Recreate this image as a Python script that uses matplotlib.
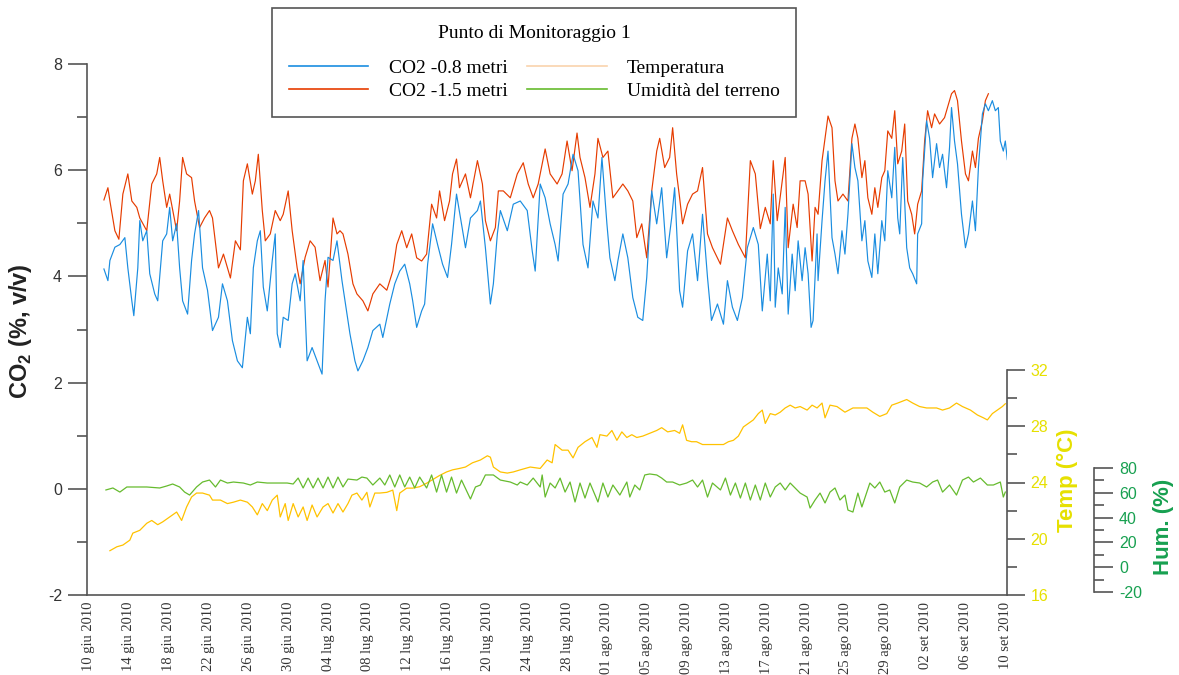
import matplotlib
matplotlib.use('Agg')
import matplotlib.pyplot as plt
from matplotlib.lines import Line2D
from matplotlib.ticker import MultipleLocator
import pandas as pd

plt.rcParams['font.family'] = ['Liberation Sans', 'DejaVu Sans']
plt.rcParams['mathtext.fontset'] = 'custom'
plt.rcParams['mathtext.rm'] = 'Liberation Sans'
plt.rcParams['mathtext.bf'] = 'Liberation Sans:bold'
plt.rcParams['axes.unicode_minus'] = False

# giorni dal 10 giugno 2010
co2_08_day = [1.5, 1.9, 2.1, 2.6, 3.1, 3.6, 3.9, 4.3, 4.5, 4.9, 5.1, 5.4, 5.8, 6.1, 6.6, 6.9, 7.4, 7.8, 8.1, 8.4,
              8.8, 9.1, 9.4, 9.9, 10.3, 10.6, 11.0, 11.4, 11.9, 12.4, 13.0, 13.4, 13.9, 14.4, 14.9, 15.4, 15.9, 16.2, 16.5, 16.9,
              17.2, 17.5, 17.9, 18.4, 18.7, 18.9, 19.2, 19.5, 20.0, 20.4, 20.7, 21.2, 21.5, 21.9, 22.4, 22.9, 23.4, 23.7, 24.0, 24.5,
              24.9, 25.4, 25.9, 26.2, 26.7, 27.0, 27.5, 28.0, 28.5, 29.2, 29.5, 30.2, 30.7, 31.2, 31.7, 32.2, 32.5, 32.9, 33.4, 33.7,
              34.0, 34.5, 35.0, 35.5, 36.0, 36.4, 36.9, 37.4, 37.8, 38.3, 39.0, 39.3, 39.8, 40.3, 40.6, 41.0, 41.3, 42.0, 42.6, 43.3,
              44.0, 44.5, 44.8, 45.3, 45.8, 46.3, 46.8, 47.1, 47.6, 48.1, 48.6, 49.1, 49.6, 50.1, 50.6, 51.1, 51.5, 52.0, 52.3, 52.8,
              53.1, 53.6, 54.1, 54.6, 55.1, 55.6, 56.0, 56.5, 57.0, 57.5, 58.0, 58.5, 58.8, 59.3, 59.6, 60.1, 60.6, 61.1, 61.6, 62.1,
              62.5, 63.1, 63.7, 64.1, 64.6, 65.1, 65.6, 66.1, 66.7, 67.2, 67.6, 68.1, 68.4, 68.7, 68.9, 69.2, 69.6, 69.9, 70.2, 70.6,
              70.9, 71.2, 71.6, 71.9, 72.2, 72.5, 72.7, 73.1, 73.2, 73.6, 73.9, 74.2, 74.6, 74.9, 75.2, 75.6, 75.9, 76.2, 76.6, 76.9,
              77.2, 77.6, 77.9, 78.2, 78.6, 78.9, 79.2, 79.6, 79.9, 80.2, 80.6, 80.9, 81.2, 81.4, 81.7, 82.1, 82.4, 82.7, 83.1, 83.2,
              83.6, 83.7, 84.1, 84.4, 84.7, 85.1, 85.4, 85.7, 86.1, 86.4, 86.6, 86.9, 87.2, 87.6, 88.0, 88.3, 88.7, 89.0, 89.3, 89.7,
              90.0, 90.3, 90.7, 91.0, 91.3, 91.5, 91.8, 92.0, 92.2]
co2_08 = [4.14, 3.92, 4.30, 4.55, 4.60, 4.73, 4.16, 3.54, 3.26, 4.16, 5.05, 4.67, 4.86, 4.05, 3.67, 3.54, 4.67, 4.80, 5.30, 4.67,
          4.99, 4.16, 3.54, 3.29, 4.30, 4.80, 5.24, 4.16, 3.74, 2.98, 3.23, 3.86, 3.54, 2.79, 2.41, 2.28, 3.23, 2.92, 4.16, 4.67,
          4.86, 3.80, 3.35, 4.30, 4.80, 2.92, 2.66, 3.23, 3.17, 3.86, 4.05, 3.54, 4.30, 2.41, 2.66, 2.41, 2.16, 3.54, 4.36, 4.30,
          4.67, 3.92, 3.29, 2.92, 2.41, 2.22, 2.41, 2.66, 2.98, 3.10, 2.85, 3.48, 3.86, 4.10, 4.23, 3.86, 3.54, 3.04, 3.35, 3.48,
          4.23, 4.99, 4.60, 4.23, 3.98, 4.60, 5.55, 4.99, 4.54, 5.10, 5.24, 5.42, 4.54, 3.48, 3.86, 4.80, 5.24, 4.86, 5.36, 5.42,
          5.24, 4.48, 4.10, 5.74, 5.48, 4.99, 4.60, 4.29, 5.55, 5.74, 6.30, 5.99, 4.60, 4.16, 5.42, 5.10, 6.24, 4.99, 4.35, 3.92,
          4.29, 4.80, 4.35, 3.60, 3.23, 3.17, 3.98, 5.61, 4.99, 5.67, 4.35, 5.10, 5.67, 3.73, 3.42, 4.48, 4.80, 3.92, 5.17, 3.98,
          3.17, 3.48, 3.10, 3.92, 3.42, 3.17, 3.60, 4.54, 4.92, 4.60, 3.35, 4.42, 3.54, 5.55, 3.42, 4.16, 3.67, 5.30, 3.29, 4.42,
          3.73, 4.67, 3.92, 4.54, 4.05, 3.04, 3.17, 4.80, 3.92, 5.05, 5.80, 6.36, 4.73, 4.42, 4.05, 4.86, 4.42, 5.17, 6.50, 6.05,
          5.80, 4.67, 5.05, 4.29, 3.98, 4.80, 4.05, 5.05, 4.67, 5.99, 5.48, 6.43, 5.10, 4.80, 6.24, 4.54, 4.16, 4.05, 3.86, 4.80,
          4.99, 5.80, 6.93, 6.60, 5.86, 6.50, 6.05, 6.30, 5.67, 6.43, 7.18, 6.55, 6.12, 5.17, 4.54, 4.80, 5.42, 4.86, 6.05, 7.06,
          7.25, 7.12, 7.31, 7.12, 7.18, 6.55, 6.36, 6.55, 6.20]

co2_15_day = [1.5, 1.9, 2.1, 2.6, 3.0, 3.4, 3.9, 4.3, 4.8, 5.1, 5.8, 6.3, 6.8, 7.1, 7.4, 7.8, 8.1, 8.8, 9.1, 9.4,
              9.8, 10.3, 10.6, 11.1, 11.6, 12.1, 12.4, 13.0, 13.5, 14.2, 14.7, 15.2, 15.5, 15.9, 16.4, 16.7, 17.0, 17.4, 17.7, 18.2,
              18.7, 19.2, 19.5, 20.0, 20.4, 20.9, 21.2, 21.7, 22.2, 22.7, 23.2, 23.7, 24.0, 24.5, 24.9, 25.2, 25.5, 26.0, 26.5, 26.9,
              27.5, 28.0, 28.5, 29.2, 29.9, 30.5, 30.9, 31.4, 31.9, 32.4, 32.9, 33.4, 33.9, 34.4, 34.9, 35.2, 35.7, 36.2, 36.5, 36.9,
              37.2, 37.8, 38.3, 39.0, 39.5, 39.8, 40.3, 40.8, 41.1, 41.6, 42.3, 43.0, 43.6, 44.1, 44.6, 45.1, 45.8, 46.3, 47.0, 47.5,
              48.0, 48.5, 49.0, 49.3, 49.8, 50.3, 50.8, 51.1, 51.6, 52.1, 52.6, 53.1, 53.6, 54.1, 54.6, 55.0, 55.5, 56.0, 56.5, 57.0,
              57.3, 57.8, 58.3, 58.6, 59.0, 59.3, 59.6, 60.1, 60.6, 61.1, 61.6, 62.1, 62.6, 63.4, 64.1, 64.6, 65.2, 65.9, 66.4, 66.9,
              67.4, 67.9, 68.4, 68.7, 69.1, 69.6, 69.9, 70.2, 70.7, 71.1, 71.4, 71.9, 72.2, 72.6, 72.9, 73.2, 73.6, 73.9, 74.2, 74.6,
              74.9, 75.2, 75.7, 76.2, 76.6, 76.9, 77.2, 77.6, 77.9, 78.2, 78.6, 78.9, 79.2, 79.6, 79.9, 80.2, 80.6, 80.9, 81.2, 81.6,
              81.9, 82.2, 82.6, 82.9, 83.2, 83.6, 83.9, 84.2, 84.6, 84.9, 85.4, 85.9, 86.2, 86.6, 86.9, 87.2, 87.6, 88.0, 88.3, 88.7,
              89.0, 89.3, 89.7, 90.0, 90.3]
co2_15 = [5.44, 5.67, 5.42, 4.86, 4.70, 5.55, 5.93, 5.42, 5.30, 5.10, 4.86, 5.74, 5.93, 6.24, 5.80, 5.30, 5.55, 4.86, 5.42, 6.24,
          5.93, 5.86, 5.42, 4.92, 5.10, 5.24, 5.10, 4.16, 4.42, 3.97, 4.67, 4.50, 5.80, 6.12, 5.55, 5.80, 6.30, 5.24, 4.67, 4.80,
          5.24, 5.05, 5.17, 5.61, 4.86, 4.16, 3.86, 4.36, 4.67, 4.55, 3.92, 4.30, 3.80, 5.10, 4.80, 4.86, 4.80, 4.42, 3.86, 3.67,
          3.54, 3.35, 3.67, 3.86, 3.74, 4.10, 4.60, 4.86, 4.54, 4.80, 4.35, 4.29, 4.42, 5.36, 5.10, 5.61, 5.05, 5.42, 5.93, 6.21,
          5.67, 5.93, 5.48, 6.18, 5.74, 5.05, 4.67, 4.92, 5.61, 5.61, 5.48, 5.93, 6.14, 5.74, 5.48, 5.74, 6.40, 5.93, 5.74, 5.93,
          6.55, 5.99, 6.70, 6.24, 5.86, 5.30, 5.93, 6.60, 6.24, 6.36, 5.48, 5.61, 5.74, 5.61, 5.42, 4.73, 4.99, 4.35, 5.61, 6.36,
          6.60, 6.05, 6.24, 6.80, 5.93, 5.48, 4.99, 5.36, 5.55, 5.61, 6.05, 4.80, 4.54, 4.23, 5.10, 4.86, 4.60, 4.35, 6.18, 5.93,
          4.90, 5.30, 4.99, 6.18, 5.05, 5.80, 6.24, 4.54, 5.36, 4.92, 5.80, 5.80, 5.55, 4.29, 5.30, 5.17, 6.18, 6.60, 7.02, 6.80,
          5.80, 5.42, 5.55, 5.42, 6.60, 6.87, 6.60, 5.86, 6.18, 5.48, 5.17, 5.67, 5.30, 5.86, 5.99, 6.74, 6.60, 7.12, 6.12, 6.36,
          6.87, 5.42, 5.17, 4.80, 5.36, 5.61, 6.55, 7.12, 6.80, 7.06, 6.87, 6.99, 7.18, 7.44, 7.50, 7.31, 6.55, 5.93, 5.80, 6.36,
          6.05, 6.60, 6.93, 7.31, 7.44]

temp_day = [2.1, 2.8, 3.4, 4.1, 4.4, 5.1, 5.8, 6.3, 6.9, 7.4, 8.1, 8.8, 9.3, 9.8, 10.3, 10.8, 11.4, 12.1, 12.4, 13.2,
            13.9, 14.5, 15.2, 15.9, 16.4, 16.9, 17.4, 17.9, 18.4, 18.9, 19.2, 19.7, 20.0, 20.5, 21.0, 21.5, 21.9, 22.4, 22.9, 23.5,
            24.0, 24.5, 25.0, 25.5, 26.0, 26.4, 26.9, 27.4, 27.9, 28.2, 28.7, 29.2, 29.9, 30.5, 30.9, 31.2, 31.9, 32.5, 33.2, 33.9,
            34.5, 35.2, 35.9, 36.5, 37.2, 37.8, 38.5, 39.3, 40.0, 40.3, 40.6, 41.3, 42.0, 42.6, 43.3, 44.3, 45.3, 46.0, 46.5, 46.8,
            47.5, 48.1, 48.6, 49.1, 49.8, 50.5, 51.0, 51.3, 52.0, 52.5, 53.0, 53.5, 54.0, 54.5, 55.0, 55.6, 56.3, 57.0, 57.5, 58.1,
            58.8, 59.3, 59.6, 60.0, 60.5, 61.0, 61.6, 62.6, 63.7, 64.2, 64.7, 65.2, 65.7, 66.2, 66.7, 67.2, 67.6, 67.9, 68.4, 68.9,
            69.4, 69.9, 70.4, 70.9, 71.4, 72.1, 72.6, 73.1, 73.6, 73.9, 74.4, 75.1, 75.9, 76.7, 78.1, 78.7, 79.4, 80.1, 80.6, 81.2,
            82.1, 82.7, 83.4, 84.1, 85.1, 85.7, 86.4, 87.1, 87.7, 88.5, 89.2, 89.8, 90.2, 90.7, 91.2, 91.7, 92.0]
temp = [19.15, 19.43, 19.55, 19.9, 20.4, 20.6, 21.1, 21.3, 21.0, 21.2, 21.55, 21.9, 21.3, 22.26, 22.97, 23.25, 23.25, 23.1, 22.75, 22.75,
        22.5, 22.6, 22.75, 22.6, 22.26, 21.7, 22.5, 22.0, 22.75, 23.1, 21.55, 22.5, 21.3, 22.5, 21.55, 22.26, 21.3, 22.4, 21.55, 22.26,
        22.5, 21.83, 22.5, 21.9, 22.5, 23.1, 23.25, 22.75, 23.3, 22.26, 23.25, 23.25, 23.3, 23.46, 22.0, 23.25, 23.6, 23.6, 23.7, 23.95,
        24.2, 24.5, 24.75, 24.9, 25.0, 25.1, 25.4, 25.6, 25.9, 25.8, 25.1, 24.75, 24.67, 24.75, 24.9, 25.1, 25.0, 25.6, 25.4, 26.7,
        26.3, 26.3, 25.75, 26.5, 26.9, 27.2, 26.5, 27.4, 27.3, 27.7, 27.0, 27.6, 27.2, 27.4, 27.2, 27.3, 27.5, 27.7, 27.9, 27.6,
        27.7, 27.5, 28.1, 27.0, 26.9, 26.9, 26.7, 26.7, 26.7, 26.9, 27.0, 27.3, 27.95, 28.2, 28.45, 28.9, 29.15, 28.2, 28.9, 28.8,
        29.0, 29.3, 29.5, 29.3, 29.4, 29.15, 29.5, 29.3, 29.65, 28.6, 29.5, 29.4, 29.0, 29.3, 29.3, 29.0, 28.7, 28.9, 29.5, 29.65,
        29.9, 29.65, 29.4, 29.3, 29.3, 29.15, 29.3, 29.65, 29.4, 29.15, 28.8, 28.6, 28.45, 28.9, 29.15, 29.4, 29.6]

hum_day = [1.7, 2.4, 3.1, 3.8, 4.8, 5.8, 7.1, 7.8, 8.4, 9.1, 9.6, 10.1, 10.8, 11.4, 12.1, 12.7, 13.2, 13.9, 14.5, 15.5,
           16.2, 16.9, 17.9, 18.9, 19.9, 20.5, 21.0, 21.5, 22.0, 22.5, 23.0, 23.5, 24.0, 24.5, 25.0, 25.5, 26.0, 26.9, 27.4, 27.9,
           28.5, 29.2, 29.7, 30.2, 30.7, 31.2, 31.7, 32.2, 32.7, 33.2, 33.9, 34.4, 34.9, 35.4, 35.9, 36.4, 36.9, 37.4, 38.3, 38.8,
           39.3, 39.8, 40.6, 41.3, 42.3, 43.0, 43.3, 44.0, 44.6, 45.3, 45.5, 45.8, 46.3, 46.8, 47.3, 47.8, 48.3, 48.8, 49.3, 49.8,
           50.3, 51.1, 51.6, 52.1, 52.6, 53.3, 54.0, 54.3, 54.8, 55.3, 55.8, 56.3, 57.0, 57.5, 58.0, 58.6, 59.3, 60.0, 60.6, 61.1,
           61.6, 62.1, 62.6, 63.4, 63.9, 64.4, 64.9, 65.4, 65.9, 66.4, 66.9, 67.4, 67.9, 68.4, 68.9, 69.4, 69.9, 70.4, 70.9, 71.4,
           72.1, 72.4, 72.9, 73.4, 73.9, 74.4, 74.9, 75.4, 75.9, 76.2, 76.7, 77.2, 77.6, 78.1, 78.4, 78.9, 79.4, 79.9, 80.4, 80.9,
           81.4, 82.1, 82.7, 83.4, 84.1, 84.7, 85.2, 85.7, 86.4, 87.1, 87.7, 88.3, 88.8, 89.5, 90.2, 90.8, 91.5, 91.8, 92.0]
hum = [62.3, 63.9, 60.6, 64.7, 64.7, 64.7, 63.9, 65.5, 67.1, 64.7, 60.6, 58.2, 64.7, 68.7, 70.3, 64.7, 70.3, 67.9, 68.7, 67.9,
       66.3, 68.7, 67.9, 67.9, 67.9, 67.1, 71.9, 63.9, 71.9, 63.9, 71.9, 63.9, 72.7, 63.9, 72.7, 64.7, 71.1, 70.3, 72.7, 71.9,
       66.3, 71.9, 66.3, 74.4, 64.7, 74.4, 64.7, 72.7, 63.9, 72.7, 63.9, 74.4, 60.6, 74.4, 60.6, 72.7, 59.8, 70.3, 55.0, 64.7,
       66.3, 74.4, 74.4, 70.3, 68.7, 66.3, 68.7, 66.3, 71.9, 64.7, 74.4, 56.6, 67.9, 63.9, 71.9, 60.6, 68.7, 52.6, 67.9, 55.8,
       67.9, 52.6, 67.9, 56.6, 66.3, 58.2, 68.7, 56.6, 66.3, 62.3, 74.4, 75.2, 74.4, 71.9, 68.7, 68.7, 66.3, 67.9, 70.3, 64.7,
       70.3, 56.6, 67.9, 62.3, 71.9, 58.2, 67.9, 55.8, 67.9, 54.2, 66.3, 54.2, 67.9, 56.6, 64.7, 67.9, 62.3, 67.9, 63.9, 59.8,
       56.6, 47.7, 54.2, 59.8, 51.8, 60.6, 63.9, 54.2, 58.2, 46.1, 44.5, 59.8, 48.6, 60.6, 67.9, 63.9, 68.7, 60.6, 62.3, 51.8,
       64.7, 70.3, 68.7, 67.9, 64.7, 68.7, 70.3, 60.6, 66.3, 58.2, 70.3, 72.7, 68.7, 71.9, 66.3, 66.3, 68.7, 56.6, 60.6]

mesi = {6: 'giu', 7: 'lug', 8: 'ago', 9: 'set'}

t0 = pd.Timestamp('2010-06-10')


def to_time(days):
    return (t0 + pd.to_timedelta(days, unit='D')).to_pydatetime()


c_blue = '#1a8de0'
c_red = '#e63c00'
c_temp = '#ffc200'
c_hum = '#66bb2e'
c_temp_txt = '#e6e000'
c_hum_txt = '#17a050'
c_axis = '#555555'
c_text = '#333333'

fig = plt.figure(figsize=(11.79, 6.75), dpi=100)
ax = fig.add_axes([87 / 1179, 80 / 675, 920 / 1179, 531 / 675])

ax.plot(to_time(co2_15_day), co2_15, color=c_red, lw=0.85)
ax.plot(to_time(co2_08_day), co2_08, color=c_blue, lw=0.85)

ax.set_ylim(-2, 8)
ax.set_xlim(t0 - pd.Timedelta(days=0.2), t0 + pd.Timedelta(days=92.17))
for s in ['top', 'right']:
    ax.spines[s].set_visible(False)
for s in ['left', 'bottom']:
    ax.spines[s].set_color(c_axis)
    ax.spines[s].set_linewidth(1.2)
ax.yaxis.set_major_locator(MultipleLocator(2))
ax.yaxis.set_minor_locator(MultipleLocator(1))
ax.tick_params(axis='y', which='major', length=14, width=1.2, color=c_axis,
               labelsize=11.5, labelcolor=c_text, pad=4)
ax.tick_params(axis='y', which='minor', length=7, width=1.2, color=c_axis)

ticks = pd.date_range('2010-06-10', '2010-09-10', freq='4D')
labels = [f"{d.day:02d} {mesi[d.month]} {d.year}" for d in ticks]
ax.set_xticks(ticks.to_pydatetime())
ax.set_xticklabels(labels, rotation=90, family='Liberation Serif', fontsize=10.5, color=c_text)
ax.tick_params(axis='x', length=0, pad=5)

# asse temperatura
ax2 = ax.twinx()
ax2.plot(to_time(temp_day), temp, color=c_temp, lw=0.9)
ax2.set_ylim(16, 53.76)
for s in ['top', 'left', 'bottom']:
    ax2.spines[s].set_visible(False)
ax2.spines['right'].set_bounds(16, 32)
ax2.spines['right'].set_color(c_axis)
ax2.spines['right'].set_linewidth(1.2)
ax2.set_yticks([16, 20, 24, 28, 32])
ax2.set_yticks([18, 22, 26, 30], minor=True)
ax2.tick_params(axis='y', which='major', length=13, width=1.2, color=c_axis,
                labelsize=11.5, labelcolor=c_temp_txt, pad=4)
ax2.tick_params(axis='y', which='minor', length=7, width=1.2, color=c_axis)

# asse umidità
ax3 = ax.twinx()
ax3.plot(to_time(hum_day), hum, color=c_hum, lw=0.9)
ax3.set_ylim(-22.4, 405.8)
for s in ['top', 'left', 'bottom']:
    ax3.spines[s].set_visible(False)
ax3.spines['right'].set_position(('axes', (1094 - 87) / 920))
ax3.spines['right'].set_bounds(-20, 80)
ax3.spines['right'].set_color(c_axis)
ax3.spines['right'].set_linewidth(1.2)
ax3.set_yticks([-20, 0, 20, 40, 60, 80])
ax3.set_yticks([-10, 10, 30, 50, 70], minor=True)
ax3.tick_params(axis='y', which='major', length=14, width=1.2, color=c_axis,
                labelsize=11.5, labelcolor=c_hum_txt, pad=4)
ax3.tick_params(axis='y', which='minor', length=7, width=1.2, color=c_axis)

fig.text(21 / 1179, 1 - 331 / 675, r'CO$_\mathbf{2}$ (%, v/v)', rotation=90, ha='center', va='center',
         fontsize=17, fontweight='bold', color='#222222')
fig.text(1067 / 1179, 1 - 480 / 675, 'Temp (°C)', rotation=90, ha='center', va='center',
         fontsize=16, fontweight='bold', color=c_temp_txt)
fig.text(1163 / 1179, 1 - 527 / 675, 'Hum. (%)', rotation=90, ha='center', va='center',
         fontsize=16, fontweight='bold', color=c_hum_txt)

handles = [Line2D([], [], color=c_blue, lw=1.2), Line2D([], [], color=c_red, lw=1.2),
           Line2D([], [], color='#f9d3ad', lw=1.2), Line2D([], [], color=c_hum, lw=1.2)]
names = ['CO2 -0.8 metri', 'CO2 -1.5 metri', 'Temperatura', 'Umidità del terreno']
leg = fig.legend(handles, names, title='Punto di Monitoraggio 1', ncol=2,
                 loc='upper left', bbox_to_anchor=(272 / 1179, 1 - 8 / 675), borderaxespad=0,
                 prop={'family': 'Liberation Serif', 'size': 14},
                 title_fontproperties={'family': 'Liberation Serif', 'size': 14},
                 handlelength=4.1, handletextpad=1.05, columnspacing=1.0, labelspacing=0.28,
                 borderpad=0.85, fancybox=False, framealpha=1, edgecolor='#555555')
leg.get_frame().set_linewidth(1.2)
leg._legend_box.sep = 13

fig.savefig('out.png', dpi=100)
